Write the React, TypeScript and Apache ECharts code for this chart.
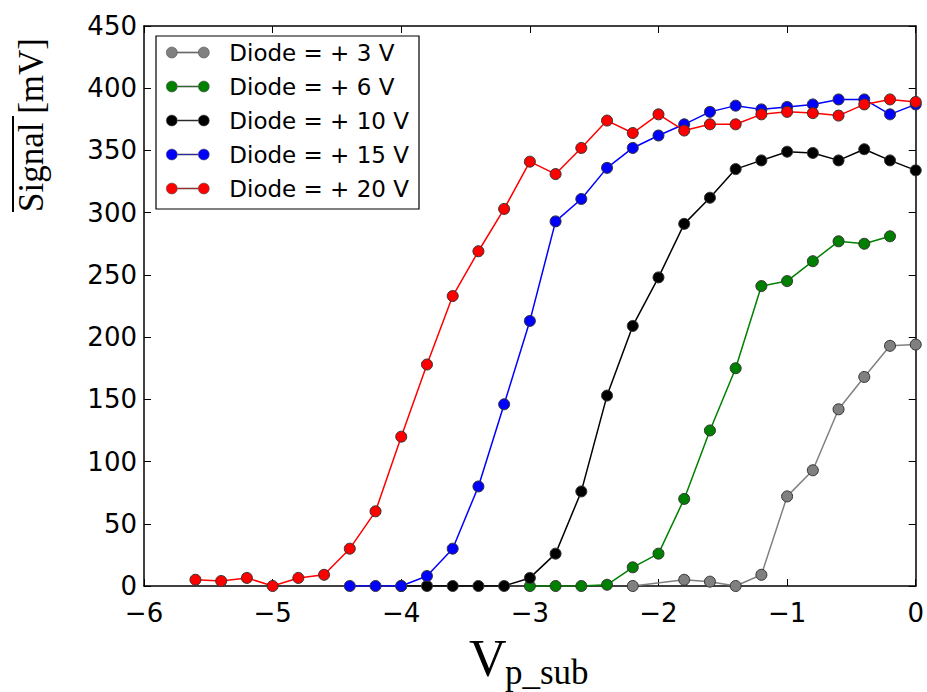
import React, { useEffect, useRef } from "react";
import * as echarts from "echarts";

const X_GREY = [-2.2, -1.8, -1.6, -1.4, -1.2, -1.0, -0.8, -0.6, -0.4, -0.2, 0];
const GREY = [0, 5, 3.5, 0, 9, 72, 93, 142, 168, 193, 194];

const X_GREEN = [-3.0, -2.8, -2.6, -2.4, -2.2, -2.0, -1.8, -1.6, -1.4, -1.2, -1.0, -0.8, -0.6, -0.4, -0.2];
const GREEN = [0, 0, 0, 1, 15, 26, 70, 125, 175, 241, 245, 261, 277, 275, 281];

const X_BLACK = [-4.0, -3.8, -3.6, -3.4, -3.2, -3.0, -2.8, -2.6, -2.4, -2.2, -2.0, -1.8, -1.6, -1.4, -1.2, -1.0, -0.8, -0.6, -0.4, -0.2, 0];
const BLACK = [0, 0, 0, 0, 0, 6.5, 26, 76, 153, 209, 248, 291, 312, 335, 342, 349, 348, 342, 351, 342, 334];

const X_BLUE = [-4.4, -4.2, -4.0, -3.8, -3.6, -3.4, -3.2, -3.0, -2.8, -2.6, -2.4, -2.2, -2.0, -1.8, -1.6, -1.4, -1.2, -1.0, -0.8, -0.6, -0.4, -0.2, 0];
const BLUE = [0, 0, 0, 8, 30, 80, 146, 213, 293, 311, 336, 352, 362, 371, 381, 386, 383, 385, 387, 391, 391, 379, 387];

const X_RED = [-5.6, -5.4, -5.2, -5.0, -4.8, -4.6, -4.4, -4.2, -4.0, -3.8, -3.6, -3.4, -3.2, -3.0, -2.8, -2.6, -2.4, -2.2, -2.0, -1.8, -1.6, -1.4, -1.2, -1.0, -0.8, -0.6, -0.4, -0.2, 0];
const RED = [5, 4, 6.5, 0, 6.5, 9, 30, 60, 120, 178, 233, 269, 303, 341, 331, 352, 374, 364, 379, 366, 371, 371, 379, 381, 380, 378, 387, 391, 389];

const SERIES_NAMES = ["Diode = + 3 V", "Diode = + 6 V", "Diode = + 10 V", "Diode = + 15 V", "Diode = + 20 V"];
const SERIES_COLORS = ["#808080", "#008000", "#000000", "#0000ff", "#ff0000"];
const SERIES_X = [X_GREY, X_GREEN, X_BLACK, X_BLUE, X_RED];
const SERIES_Y = [GREY, GREEN, BLACK, BLUE, RED];

const X_MIN = -6;
const X_MAX = 0;
const Y_MIN = 0;
const Y_MAX = 450;

const LEGEND_ICON =
  "path://M0,5.5A5.5,5.5,0,1,1,11,5.5A5.5,5.5,0,1,1,0,5.5ZM11,5L32,5L32,6L11,6ZM32,5.5A5.5,5.5,0,1,1,43,5.5A5.5,5.5,0,1,1,32,5.5Z";

const fmtX = (v: number) => (v < 0 ? "\u2212" + Math.abs(v) : String(v));

export default function App() {
  const ref = useRef<HTMLDivElement>(null);
  useEffect(() => {
    if (!ref.current) return;
    const chart = echarts.init(ref.current, undefined, { renderer: "svg" });
    const tickFont = { fontFamily: "DejaVu Sans", fontSize: 26, color: "#000" };
    const axisLine = { show: true, onZero: false, lineStyle: { color: "#000", width: 1.5 } };
    const axisTick = { show: true, inside: true, length: 7, lineStyle: { color: "#000", width: 1 } };
    const series = SERIES_NAMES.map((name, i) => ({
      name,
      type: "line",
      xAxisIndex: 0,
      yAxisIndex: 0,
      data: SERIES_X[i].map((x, j) => [x, SERIES_Y[i][j]]),
      symbol: "circle",
      symbolSize: 11,
      showAllSymbol: true,
      lineStyle: { color: SERIES_COLORS[i], width: 1.5 },
      itemStyle: { color: SERIES_COLORS[i], borderColor: "#333", borderWidth: 1 },
      z: 2 + i,
    }));
    chart.setOption({
      animation: false,
      backgroundColor: "#fff",
      grid: { left: 144, right: 9, top: 26, bottom: 106, containLabel: false },
      legend: {
        show: true,
        orient: "vertical",
        left: 156,
        top: 36,
        data: SERIES_NAMES.map((n) => ({
          name: n,
          icon: LEGEND_ICON,
          itemStyle: { borderColor: "#555", borderWidth: 0.6 },
        })),
        itemWidth: 43,
        itemHeight: 11,
        itemGap: 11,
        padding: [5, 10, 9, 10],
        backgroundColor: "#fff",
        borderColor: "#000",
        borderWidth: 1.2,
        borderRadius: 0,
        selectedMode: false,
        textStyle: {
          fontFamily: "DejaVu Sans",
          fontSize: 23,
          color: "#000",
          padding: [0, 0, 0, 15],
        },
      },
      xAxis: [
        {
          type: "value",
          min: X_MIN,
          max: X_MAX,
          interval: 1,
          position: "bottom",
          axisLine,
          axisTick,
          splitLine: { show: false },
          axisLabel: { ...tickFont, margin: 14, formatter: fmtX },
        },
        {
          type: "value",
          min: X_MIN,
          max: X_MAX,
          interval: 1,
          position: "top",
          axisLine,
          axisTick,
          splitLine: { show: false },
          axisLabel: { show: false },
        },
      ],
      yAxis: [
        {
          type: "value",
          min: Y_MIN,
          max: Y_MAX,
          interval: 50,
          position: "left",
          axisLine,
          axisTick,
          splitLine: { show: false },
          axisLabel: { ...tickFont, margin: 7 },
        },
        {
          type: "value",
          min: Y_MIN,
          max: Y_MAX,
          interval: 50,
          position: "right",
          axisLine,
          axisTick,
          splitLine: { show: false },
          axisLabel: { show: false },
        },
      ],
      graphic: [
        {
          type: "text",
          x: 31,
          y: 125,
          rotation: Math.PI / 2,
          style: {
            text: "Signal [mV]",
            font: '35px "Liberation Serif"',
            fill: "#000",
            textAlign: "center",
            textVerticalAlign: "middle",
          },
        },
        {
          type: "line",
          shape: { x1: 13, y1: 116, x2: 13, y2: 212 },
          style: { stroke: "#000", lineWidth: 2 },
        },
        {
          type: "text",
          x: 469,
          y: 658,
          style: {
            text: "V",
            font: '52px "Liberation Serif"',
            fill: "#000",
            textAlign: "left",
            textVerticalAlign: "middle",
          },
        },
        {
          type: "text",
          x: 505,
          y: 672,
          style: {
            text: "p_sub",
            font: '35px "Liberation Serif"',
            fill: "#000",
            textAlign: "left",
            textVerticalAlign: "middle",
          },
        },
      ],
      series,
    });
    return () => chart.dispose();
  }, []);
  return (
    <div
      ref={ref}
      style={{ position: "fixed", left: 0, top: 0, width: 927, height: 692, background: "#fff" }}
    />
  );
}
